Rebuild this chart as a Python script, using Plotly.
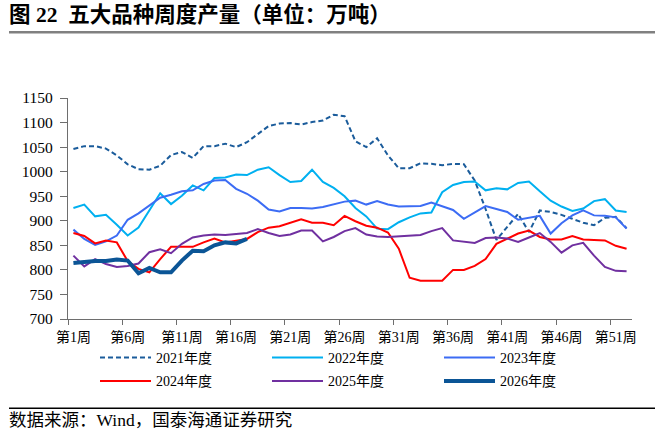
import plotly.graph_objects as go

weeks = list(range(1, 53))
tick_weeks = [1, 6, 11, 16, 21, 26, 31, 36, 41, 46, 51]
tick_labels = [f"第{w}周" for w in tick_weeks]
boundary_ticks = [w - 0.5 for w in tick_weeks]

y2021 = [1046, 1052, 1052, 1047, 1033, 1015, 1005, 1004, 1012, 1034, 1040, 1028, 1052,
         1052, 1057, 1050, 1060, 1076, 1093, 1098, 1099, 1096, 1101, 1104, 1116, 1113,
         1062, 1050, 1068, 1033, 1007, 1007, 1017, 1016, 1013, 1016, 1015, 982, 924,
         861, 888, 914, 877, 921, 918, 912, 904, 896, 891, 906, 908, 885]
y2022 = [926, 933, 909, 912, 892, 870, 886, 921, 956, 934, 951, 972, 962,
         987, 988, 994, 993, 1004, 1009, 993, 979, 981, 1004, 979, 967, 950,
         926, 909, 884, 883, 897, 907, 915, 917, 958, 973, 979, 980, 962,
         966, 964, 977, 980, 960, 941, 929, 920, 925, 940, 944, 921, 918]
y2023 = [882, 863, 851, 858, 870, 902, 915, 931, 947, 953, 960, 962, 975,
         982, 983, 965, 955, 941, 923, 919, 926, 926, 925, 928, 933, 939,
         941, 933, 940, 933, 929, 930, 930, 937, 930, 922, 904, 917, 930,
         924, 918, 902, 906, 910, 874, 895, 911, 921, 911, 910, 907, 884]
y2024 = [875, 869, 854, 860, 856, 818, 802, 795, 822, 847, 847, 847, 856,
         864, 856, 860, 863, 877, 886, 889, 896, 903, 896, 896, 891, 910,
         899, 890, 886, 876, 843, 784, 778, 778, 778, 800, 800, 808, 822,
         853, 864, 874, 880, 867, 862, 862, 869, 862, 861, 860, 849, 843]
y2025 = [829, 807, 822, 812, 806, 808, 813, 836, 842, 834, 853, 866, 870,
         872, 871, 873, 875, 883, 875, 869, 872, 880, 880, 858, 867, 879,
         885, 872, 868, 867, 868, 869, 871, 879, 885, 860, 857, 855, 865,
         866, 864, 857, 866, 875, 857, 835, 850, 855, 829, 806, 798, 797]
y2026 = [814, 817, 818, 818, 821, 819, 793, 804, 795, 795, 819, 839, 838, 850, 856, 854, 863]

series = [
    ("2021年度", y2021, "#1B5C9B", 2, "dash", "legend"),
    ("2022年度", y2022, "#00B0F0", 2, "solid", "legend"),
    ("2023年度", y2023, "#3C6CF4", 2, "solid", "legend"),
    ("2024年度", y2024, "#FF0000", 2, "solid", "legend2"),
    ("2025年度", y2025, "#7030A0", 2, "solid", "legend2"),
    ("2026年度", y2026, "#0B5596", 4, "solid", "legend2"),
]

FONT = "Liberation Serif, Times New Roman, Noto Sans CJK SC"

fig = go.Figure()
for name, ys, color, width, dash, leg in series:
    fig.add_trace(go.Scatter(
        x=weeks[:len(ys)], y=ys, mode="lines", name=name, legend=leg,
        line=dict(color=color, width=width, dash=("5px,3px" if dash == "dash" else None)),
    ))

W, H = 662, 437
L, R, T, B = 68, 30, 98, 118
pw, ph = W - L - R, H - T - B


def px(X):
    return (X - L) / pw


def py(Y):
    return (H - B - Y) / ph


leg_common = dict(
    orientation="h", xanchor="left", yanchor="top",
    entrywidth=106, entrywidthmode="pixels", itemwidth=51,
    font=dict(family=FONT, size=14, color="#000000"),
    bgcolor="rgba(0,0,0,0)", traceorder="normal",
)

AXC = "#6E6E6E"

fig.update_layout(
    width=W, height=H,
    margin=dict(l=L, r=R, t=T, b=B, pad=0),
    paper_bgcolor="white", plot_bgcolor="white",
    font=dict(family=FONT, size=14, color="#000000"),
    showlegend=True,
    legend=dict(x=px(95), y=py(342), **leg_common),
    legend2=dict(x=px(95), y=py(365.3), **leg_common),
    xaxis=dict(
        range=[0.5, 52.5], tickmode="array", tickvals=tick_weeks, ticktext=tick_labels,
        ticks="", showgrid=False, zeroline=False, showline=True,
        linecolor=AXC, linewidth=1.3,
        tickfont=dict(family=FONT, size=14, color="#000000"),
        ticklabelstandoff=5,
        minor=dict(tickvals=boundary_ticks, ticks="outside", ticklen=5,
                   tickcolor=AXC, tickwidth=1.3, showgrid=False),
    ),
    yaxis=dict(
        range=[700, 1150], tickmode="linear", tick0=700, dtick=50,
        ticks="outside", ticklen=7, tickcolor=AXC, tickwidth=1.3,
        showgrid=False, zeroline=False, showline=True,
        linecolor=AXC, linewidth=1.3, ticklabelstandoff=4,
        tickfont=dict(family=FONT, size=15.5, color="#000000"),
    ),
)

fig.add_annotation(
    xref="paper", yref="paper", x=px(7), y=py(14.5), xanchor="left", yanchor="middle",
    text="<b>图\u00a022\u00a0\u00a0五大品种周度产量（单位：万吨）</b>",
    showarrow=False, font=dict(family=FONT, size=21.5, color="#000000"),
)
fig.add_annotation(
    xref="paper", yref="paper", x=px(7), y=py(420), xanchor="left", yanchor="middle",
    text="数据来源：Wind，国泰海通证券研究",
    showarrow=False, font=dict(family=FONT, size=17.5, color="#000000"),
)
fig.add_shape(type="line", xref="paper", yref="paper", x0=px(9), x1=px(655),
              y0=py(32.3), y1=py(32.3), line=dict(color="#808080", width=2.5))
fig.add_shape(type="line", xref="paper", yref="paper", x0=px(9), x1=px(655),
              y0=py(408.3), y1=py(408.3), line=dict(color="#000000", width=1.5))

fig.write_html("out.html")
